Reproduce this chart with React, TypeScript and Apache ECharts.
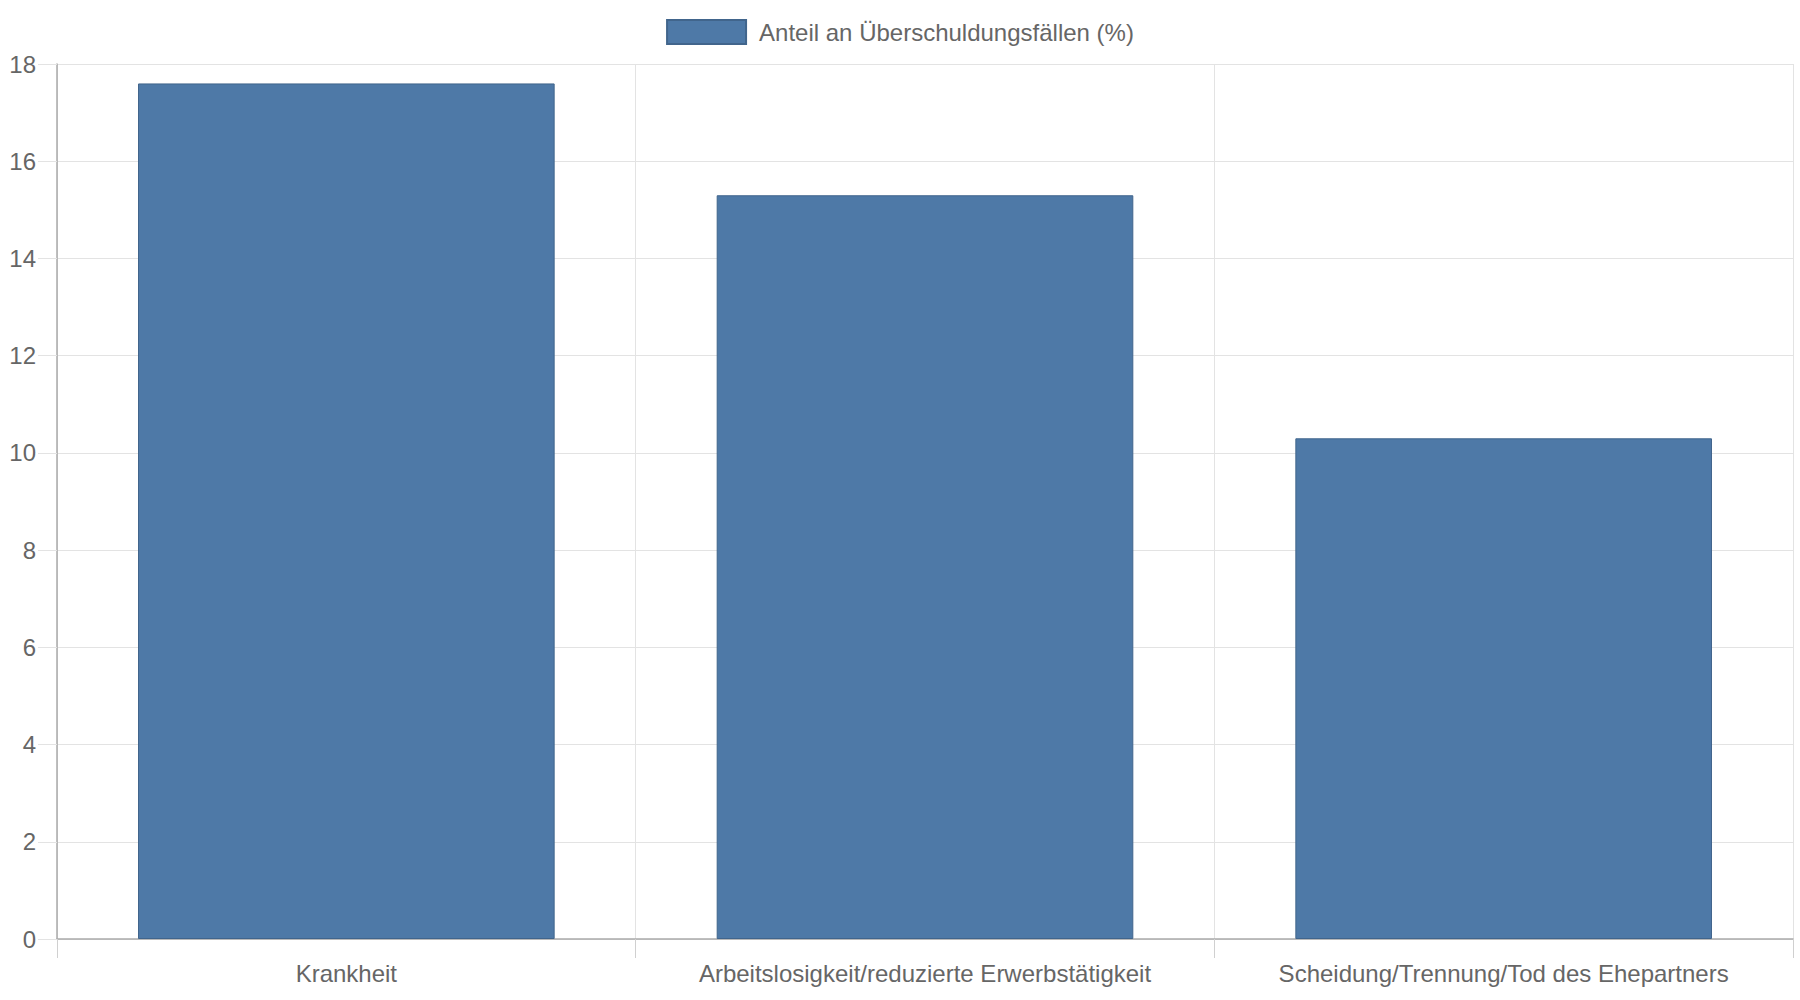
import React, { useEffect, useRef } from 'react';
import * as echarts from 'echarts';

const categories = [
  'Krankheit',
  'Arbeitslosigkeit/reduzierte Erwerbstätigkeit',
  'Scheidung/Trennung/Tod des Ehepartners',
];
const shares = [17.6, 15.3, 10.3];
const seriesName = 'Anteil an Überschuldungsfällen (%)';

const FONT = '"Liberation Sans", Arial, Helvetica, sans-serif';
const TEXT = '#666666';
const GRID_LINE = '#e3e3e3';
const AXIS_LINE = '#aaaaaa';

const App: React.FC = () => {
  const chartRef = useRef<HTMLDivElement>(null);

  useEffect(() => {
    if (!chartRef.current) return;
    document.body.style.margin = '0';
    const chart = echarts.init(chartRef.current, undefined, { renderer: 'svg' });

    const option: echarts.EChartsOption = {
      animation: false,
      backgroundColor: '#ffffff',
      textStyle: { fontFamily: FONT },
      legend: {
        top: 14,
        left: 'center',
        itemWidth: 79,
        itemHeight: 24,
        itemGap: 10,
        icon: 'rect',
        textStyle: { color: TEXT, fontSize: 24, fontFamily: FONT, padding: [0, 0, 0, 8] },
        data: [seriesName],
      },
      grid: { left: 57, right: 7, top: 64, bottom: 61, containLabel: false },
      xAxis: {
        type: 'category',
        data: categories,
        boundaryGap: true,
        axisLine: { show: true, lineStyle: { color: AXIS_LINE, width: 1.5 } },
        axisTick: { show: true, interval: 0, length: 19, lineStyle: { color: '#d0d0d0' } },
        splitLine: { show: true, interval: 0, lineStyle: { color: GRID_LINE } },
        axisLabel: { color: TEXT, fontSize: 24, fontFamily: FONT, margin: 22, interval: 0 },
      },
      yAxis: {
        type: 'value',
        min: 0,
        max: 18,
        interval: 2,
        axisLine: { show: true, lineStyle: { color: AXIS_LINE, width: 1.5 } },
        axisTick: { show: true, length: 19, lineStyle: { color: GRID_LINE } },
        splitLine: { show: true, lineStyle: { color: GRID_LINE } },
        axisLabel: { color: TEXT, fontSize: 24, fontFamily: FONT, margin: 21 },
      },
      series: [
        {
          name: seriesName,
          type: 'bar',
          data: shares,
          barCategoryGap: '28%',
          itemStyle: { color: '#4e79a7', borderColor: '#41658c', borderWidth: 1 },
        },
      ],
    };

    chart.setOption(option);
    return () => {
      chart.dispose();
    };
  }, []);

  return <div ref={chartRef} style={{ width: 1800, height: 1000 }} />;
};

export default App;
